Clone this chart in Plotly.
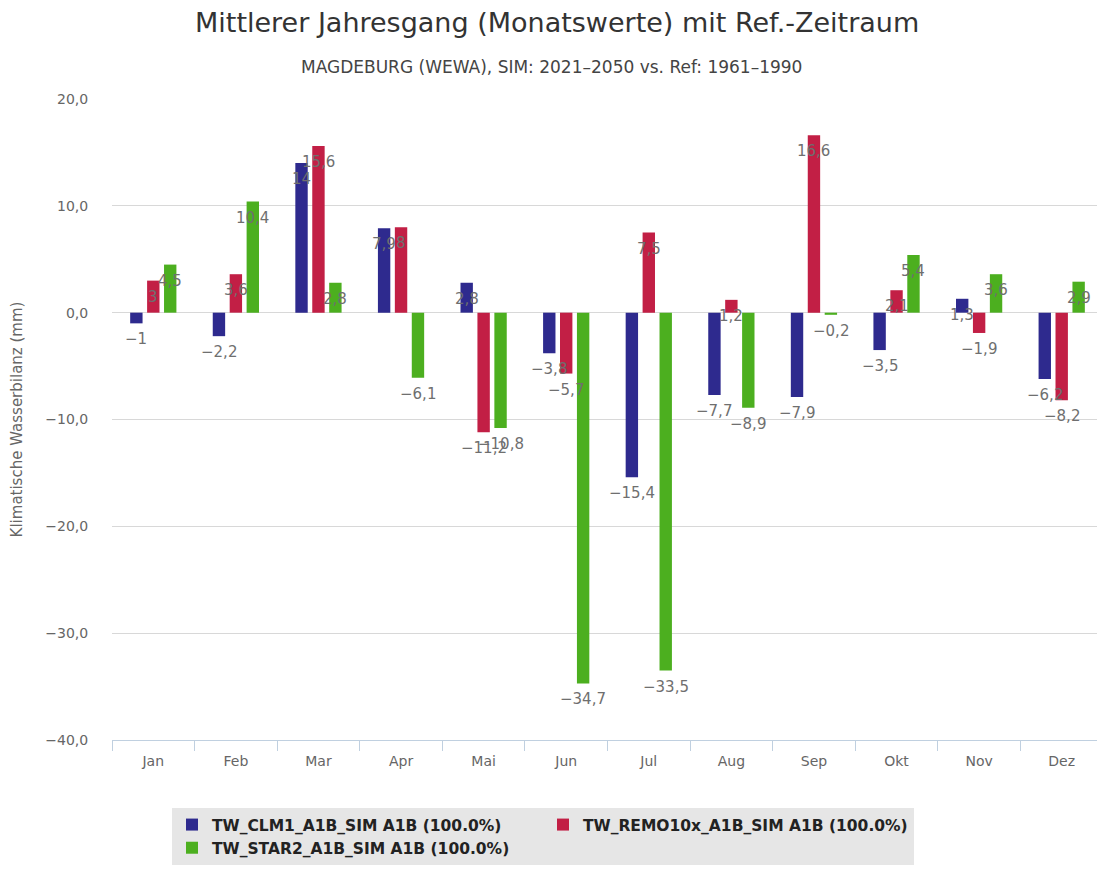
import plotly.graph_objects as go

months = ["Jan", "Feb", "Mar", "Apr", "Mai", "Jun", "Jul", "Aug", "Sep", "Okt", "Nov", "Dez"]
clm1 = [-1, -2.2, 14, 7.9, 2.8, -3.8, -15.4, -7.7, -7.9, -3.5, 1.3, -6.2]
remo = [3, 3.6, 15.6, 8, -11.2, -5.7, 7.5, 1.2, 16.6, 2.1, -1.9, -8.2]
star = [4.5, 10.4, 2.8, -6.1, -10.8, -34.7, -33.5, -8.9, -0.2, 5.4, 3.6, 2.9]

series = [
    ("TW_CLM1_A1B_SIM A1B (100.0%)", clm1, "#2e2a8e"),
    ("TW_REMO10x_A1B_SIM A1B (100.0%)", remo, "#c21f45"),
    ("TW_STAR2_A1B_SIM A1B (100.0%)", star, "#4caf1f"),
]

def fmt(v):
    if float(v).is_integer():
        s = str(abs(int(v)))
    else:
        s = f"{abs(v):.1f}".replace(".", ",")
    return ("\u2212" if v < 0 else "") + s

FONT = "DejaVu Sans"
OFF = 8  # page body margin
W, H = 1105 - OFF, 877 - OFF
ML, MR, MT, MB = 112 - OFF, 2, 99 - OFF, 137
PH = H - MT - MB
PW = W - ML - MR

def px_x(x):
    return (x - OFF - ML) / PW

def px_y(y):
    return 1 - (y - OFF - MT) / PH

fig = go.Figure()
step = 0.205
n = len(series)
annotations = []
for k, (name, vals, col) in enumerate(series):
    off = (k - (n - 1) / 2) * step
    xs = [i + off for i in range(len(months))]
    fig.add_trace(go.Bar(x=xs, y=vals, name=name, marker_color=col, width=0.15,
                         marker_line_width=0))
    for x, v in zip(xs, vals):
        annotations.append(dict(x=x, y=v, xref="x", yref="y", text=fmt(v), showarrow=False,
                                yshift=-16, font=dict(family=FONT, size=15, color="#6f6f6f")))

annotations.append(dict(text="MAGDEBURG (WEWA), SIM: 2021\u20132050 vs. Ref: 1961\u20131990", x=px_x(551),
                        xref="paper", y=px_y(67), yref="paper", yanchor="middle",
                        showarrow=False, font=dict(family=FONT, size=17, color="#444")))
annotations.append(dict(text="Mittlerer Jahresgang (Monatswerte) mit Ref.-Zeitraum", x=px_x(557),
                        xref="paper", y=px_y(22), yref="paper", yanchor="middle",
                        showarrow=False, font=dict(family=FONT, size=27, color="#333")))

fig.update_layout(
    width=W, height=H,
    margin=dict(l=ML, r=MR, t=MT, b=MB, autoexpand=False),
    paper_bgcolor="white", plot_bgcolor="white",
    separators=",.",
    barmode="overlay",
    showlegend=True,
    font=dict(family=FONT, color="#666"),
    legend=dict(orientation="h", x=px_x(172), y=px_y(808),
                xanchor="left", yanchor="top",
                bgcolor="#e6e6e6", entrywidth=326,
                font=dict(family=FONT, size=15.5, color="#222", weight="bold"),
                traceorder="normal"),
    xaxis=dict(range=[-0.5, len(months) - 0.5], tickvals=list(range(len(months))), ticktext=months,
               showgrid=False, zeroline=False, showline=True, linecolor="#c0d0e0", linewidth=1,
               ticks="outside", ticklen=8, tickcolor="rgba(0,0,0,0)", automargin=False,
               tickfont=dict(size=14, color="#666"),
               minor=dict(tick0=0.5, dtick=1, ticks="outside", ticklen=10, tickcolor="#c0d0e0",
                          showgrid=False)),
    yaxis=dict(range=[-40, 20], tickvals=[-40, -30, -20, -10, 0, 10, 20], tickformat=".1f",
               showgrid=True, gridcolor="#d8d8d8", zeroline=False, automargin=False,
               ticks="outside", ticklen=20, tickcolor="rgba(0,0,0,0)",
               tickfont=dict(size=14, color="#666"),
               title=dict(text="Klimatische Wasserbilanz (mm)", font=dict(size=15, color="#666"),
                          standoff=25)),
    annotations=annotations,
)

fig.write_html("out.html")
